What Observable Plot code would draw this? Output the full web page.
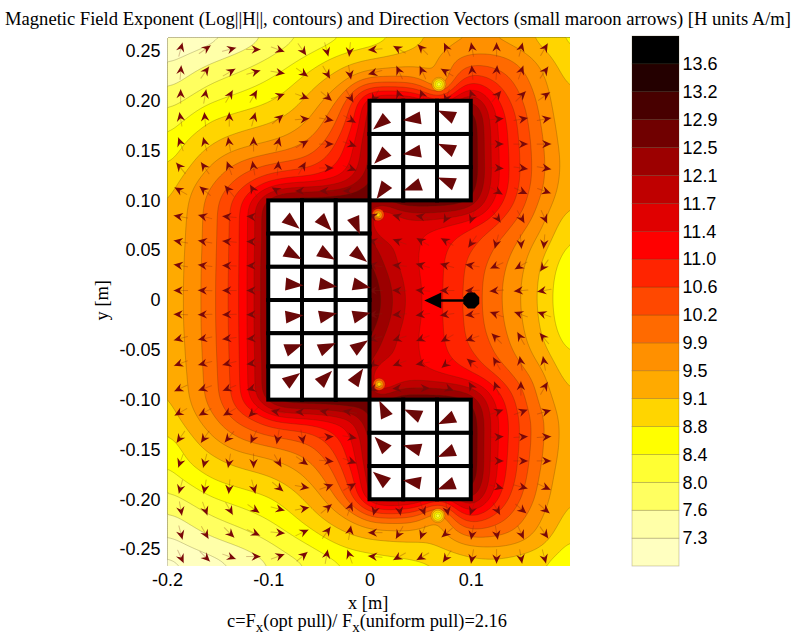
<!DOCTYPE html>
<html><head><meta charset="utf-8">
<script src="https://cdn.jsdelivr.net/npm/d3@7"></script>
<script src="https://cdn.jsdelivr.net/npm/@observablehq/plot@0.6"></script>
<style>
html,body{margin:0;padding:0;background:#fff}
#page{position:relative;width:795px;height:642px;overflow:hidden}
#page>*{position:absolute;left:0;top:0}
.t{font-family:"Liberation Serif",serif;color:#000;white-space:nowrap}
.t sub{font-size:15px;line-height:0}
</style></head><body><div id="page"></div>
<script>
const levels=[6.904,7.276,7.648,8.02,8.392,8.764,9.136,9.508,9.88,10.252,10.624,10.996,11.368,11.74,12.112,12.484,12.856,13.228,13.6];
const levelLabels=["","7.3","7.6","8.0","8.4","8.8","9.1","9.5","9.9","10.2","10.6","11.0","11.4","11.7","12.1","12.5","12.9","13.2","13.6"];
const bandColors=["#FFFFCC","#FFFFC0","#FFFFA8","#FFFF60","#FFFF33","#FFFF00","#FFD500","#FFAA00","#FF9000","#FF6A00","#FF4800","#FF2400","#FF0000","#E00000","#BF0000","#9C0000","#700000","#480000","#240000","#000000"];
const barTop=13.972;

const gridX=[-.2,-.18,-.16,-.14,-.12,-.1,-.08,-.06,-.04,-.02,0,.02,.04,.06,.08,.1,.12,.14,.16,.18,.2];
const gridY=[.28,.26,.24,.22,.2,.18,.16,.14,.12,.1,.08,.06,.04,.02,0,-.02,-.04,-.06,-.08,-.1,-.12,-.14,-.16,-.18,-.2,-.22,-.24,-.26,-.28];
const fieldRows=[
[6.55,6.7,6.85,7.0,7.2,7.4,7.6,7.8,7.95,8.1,8.2,8.35,8.5,8.7,8.9,9.0,9.0,8.95,8.8,8.55,8.3],
[6.8,7.0,7.15,7.32,7.5,7.72,7.96,8.12,8.28,8.42,8.55,8.75,9.0,9.2,9.42,9.5,9.5,9.38,9.15,8.9,8.65],
[7.25,7.45,7.6,7.75,7.9,8.08,8.3,8.55,8.85,9.1,9.2,9.3,9.35,9.42,9.8,10.1,10.12,9.97,9.62,9.2,8.75],
[7.5,7.7,7.95,8.1,8.25,8.42,8.65,8.98,9.25,9.54,9.95,9.9,9.95,9.7,10.0,11.0,10.7,10.3,9.82,9.4,8.95],
[7.85,8.08,8.33,8.48,8.6,8.73,8.95,9.24,9.65,10.45,12,12.2,12,11.5,11.6,12.5,11.35,10.55,10,9.45,9.1],
[8.2,8.47,8.78,8.9,9,9.08,9.24,9.51,10,10.7,12,13,13,13,13,13,11.55,10.8,10.1,9.55,9.1],
[8.4,8.85,9.03,9.2,9.33,9.45,9.62,9.9,10.33,11.1,12.2,13,13,13,13,13,11.6,10.85,10.2,9.62,9.15],
[8.65,9,9.4,9.75,9.98,10.12,10.2,10.32,10.75,11.25,12.2,13,13,13,13,13,11.6,10.9,10.22,9.68,9.2],
[8.9,9.32,9.72,10.15,10.55,10.87,11.05,11.1,11.25,11.55,12.5,13,13,13,13,13,11.65,10.9,10.22,9.68,9.15],
[9.05,9.49,9.98,10.52,11.32,12.6,13,13,13,13,13,13,13,13,13,12.6,11.45,10.75,10.05,9.55,9.05],
[9.12,9.53,10,10.55,11.33,12.6,13,13,13,13,11.8,11.3,11.5,11.5,11.35,11.15,10.8,10.3,9.85,9.3,8.85],
[9.15,9.55,10,10.57,11.33,12.6,13,13,13,13,12.2,11.75,11.5,11.25,11.0,10.75,10.35,10,9.55,9.12,8.6],
[9.18,9.57,10.02,10.58,11.33,12.7,13,13,13,13,12.5,11.85,11.45,11.2,10.9,10.52,10.18,9.8,9.37,8.88,8.45],
[9.2,9.58,10.03,10.6,11.33,12.7,13,13,13,13,12.8,12.1,11.55,11.2,10.87,10.47,10.08,9.72,9.28,8.78,8.35],
[9.2,9.58,10.03,10.6,11.33,12.7,13,13,13,13,12.9,12.2,11.6,11.2,10.85,10.45,10.07,9.7,9.25,8.76,8.3],
[9.2,9.58,10.03,10.6,11.33,12.7,13,13,13,13,12.8,12.1,11.55,11.2,10.87,10.47,10.1,9.73,9.3,8.8,8.35],
[9.18,9.56,10.02,10.58,11.33,12.7,13,13,13,13,12.5,11.85,11.45,11.2,10.9,10.52,10.2,9.82,9.38,8.92,8.5],
[9.15,9.54,10,10.56,11.33,12.6,13,13,13,13,12.2,11.75,11.5,11.25,11,10.75,10.35,10,9.57,9.16,8.7],
[9.1,9.5,9.98,10.53,11.32,12.6,13,13,13,13,11.8,11.3,11.5,11.5,11.35,11.15,10.8,10.35,9.9,9.36,8.95],
[9.03,9.47,9.96,10.5,11.3,12.6,13,13,13,13,13,13,13,13,13,12.6,11.45,10.75,10,9.52,9.02],
[8.88,9.3,9.7,10.12,10.52,10.85,11.03,11.08,11.22,11.52,12.5,13,13,13,13,13,11.6,10.9,10.2,9.68,9.15],
[8.62,8.98,9.38,9.72,9.95,10.1,10.18,10.3,10.72,11.2,12.2,13,13,13,13,13,11.55,10.88,10.2,9.65,9.2],
[8.38,8.83,9,9.18,9.3,9.42,9.6,9.88,10.3,11.05,12.2,13,13,13,13,13,11.55,10.82,10.15,9.6,9.15],
[8.18,8.45,8.75,8.88,8.98,9.06,9.22,9.5,10,10.7,12,13,13,13,13,13,11.5,10.75,10.05,9.5,9.1],
[7.85,8.05,8.3,8.45,8.58,8.7,8.93,9.2,9.6,10.4,12,12.2,12,11.5,11.6,12.5,11.3,10.5,9.95,9.42,9.05],
[7.5,7.68,7.92,8.08,8.22,8.4,8.63,8.95,9.22,9.48,9.85,9.85,9.9,9.6,10,10.85,10.55,10.15,9.7,9.3,8.9],
[7.2,7.42,7.58,7.72,7.87,8.05,8.28,8.5,8.8,9.02,9.1,9.15,9.18,9.2,9.45,9.75,9.8,9.75,9.5,9.1,8.65],
[6.8,7,7.15,7.3,7.45,7.7,7.95,8.1,8.33,8.5,8.6,8.66,8.72,8.78,8.88,9,9.05,9,8.9,8.78,8.45],
[6.5,6.65,6.85,7,7.15,7.35,7.55,7.7,7.9,8.1,8.2,8.3,8.35,8.4,8.5,8.6,8.6,8.55,8.5,8.35,8.05]
];
const spotX=[.068,.068,.068,.061,.076,.068, .068,.068,.068,.061,.076,.068, .016,.011,.023,.008,.031, .016,.011,.023,.008,.031];
const spotY=[.228,.216,.206,.216,.216,.202, -.226,-.215,-.206,-.215,-.215,-.201, .086,.078,.078,.094,.074, -.084,-.076,-.076,-.092,-.072];
const spotV=[9.4,8.6,9.6,9.6,9.7,11, 9.4,8.6,9.6,9.6,9.7,11, 10.6,10.9,11,11,11.4, 10.6,10.9,11,11,11.4];

const ringX=[.068,.068,.068,.068, .067,.067,.067,.067, .008,.008,.008, .009,.009,.009];
const ringY=[.217,.217,.217,.217, -.216,-.216,-.216,-.216, .086,.086,.086, -.084,-.084,-.084];
const ringR=[7,5.5,3.5,1.8, 7,5.5,3.5,1.8, 6,4,2, 6,4,2];
const ringV=[9.3,8.9,8.5,8.1, 9.3,8.9,8.5,8.1, 10.4,9.7,9.0, 10.4,9.7,9.0];

const arrowX=[-.187,-.163,-.139,-.115,-.091,-.067,-.043,-.02,.005,.029,.052,.076,.101,.125,.149,.172];
const arrowY=[.252,.229,.205,.182,.157,.133,.11,.084,.059,.035,.01,-.014,-.038,-.063,-.088,-.112,-.137,-.161,-.187,-.209,-.233,-.257];
const _=null;
const arrowAngles=[
[15,55,75,90,110,145,165,185,265,300,315,335,350,0,15,30],
[5,35,60,75,100,125,150,170,255,335,335,300,355,5,20,35],
[0,10,30,30,70,110,130,150,210,340,340,200,340,40,45,55],
[350,355,0,15,50,85,100,120,_,_,_,_,_,85,80,80],
[340,345,350,0,15,60,90,110,_,_,_,_,_,90,90,90],
[320,325,340,350,5,30,90,110,_,_,_,_,_,95,98,100],
[300,310,320,330,300,270,270,270,_,_,_,_,_,120,115,110],
[280,285,275,275,_,_,_,_,290,285,280,210,200,145,150,155],
[280,280,275,272,_,_,_,_,285,290,300,300,215,195,175,185],
[280,278,272,270,_,_,_,_,280,275,285,285,280,245,240,215],
[270,272,270,270,_,_,_,_,270,272,275,270,268,265,265,260],
[272,268,268,268,_,_,_,_,265,265,262,262,262,290,290,290],
[255,258,262,265,_,_,_,_,255,252,248,240,250,315,330,320],
[250,255,255,262,_,_,_,_,235,250,260,230,310,330,350,350],
[245,250,248,255,_,_,_,_,250,265,90,110,330,340,0,30],
[240,240,240,225,280,270,280,280,_,_,_,_,_,70,70,75],
[215,215,220,205,190,170,85,100,_,_,_,_,_,85,85,85],
[200,195,190,180,150,125,95,110,_,_,_,_,_,90,90,90],
[195,190,185,165,130,100,70,60,_,_,_,_,_,105,105,115],
[170,160,150,125,105,80,50,20,195,170,160,170,200,150,130,130],
[165,150,135,115,95,65,35,10,270,210,200,230,190,170,155,145],
[155,135,110,90,70,50,10,340,275,240,240,215,190,180,170,165]
];

const tileSize=.1/3;
const upperMagnet=[[230,262,294],[225,260,294],[215,250,292]];
const leftMagnet=[[129,137,158],[118,120,129],[95,99,102],[84,78,76],[70,66,56],[54,45,34]];
const lowerMagnet=[[335,294,245],[317,285,247],[309,279,249]];
const magnetOrigins=[[0,.2,upperMagnet],[-.1,.1,leftMagnet],[0,-.1,lowerMagnet]];

const xTicks=[-.2,-.1,0,.1], xTickLabels=["-0.2","-0.1","0","0.1"];
const yTicks=[.25,.2,.15,.1,.05,0,-.05,-.1,-.15,-.2,-.25];
const yTickLabels=["0.25","0.20","0.15","0.10","0.05","0","-0.05","-0.10","-0.15","-0.20","-0.25"];

const field=gridY.flatMap((y,j)=>gridX.map((x,i)=>({x,y,v:fieldRows[j][i]})))
  .concat(spotX.map((x,i)=>({x,y:spotY[i],v:spotV[i]})));
const rings=ringX.map((x,i)=>({x,y:ringY[i],r:ringR[i],v:ringV[i]}));
const arrows=arrowY.flatMap((y,j)=>arrowX.map((x,i)=>({x,y,a:arrowAngles[j][i]}))).filter(d=>d.a!==null);
const tiles=magnetOrigins.flatMap(([x0,y0,rows])=>rows.flatMap((r,j)=>r.map((a,i)=>({
  x1:x0+i*tileSize,x2:x0+(i+1)*tileSize,y1:y0-(j+1)*tileSize,y2:y0-j*tileSize,a}))));

const wedge={draw(c,l){c.moveTo(0,-l);c.lineTo(-6.5,0);c.lineTo(6.5,0);c.closePath();}};
const shaft={draw(c,l){c.moveTo(0,0);c.lineTo(0,-l);}};
const head={draw(c,l){c.moveTo(0,-l);c.lineTo(-4.2,-l+9);c.lineTo(0,-l+6);c.lineTo(4.2,-l+9);c.closePath();}};
const force={draw(c,l){
  const R=8,k=R*.414;
  c.moveTo(-k,-R);c.lineTo(k,-R);c.lineTo(R,-k);c.lineTo(R,k);c.lineTo(k,R);c.lineTo(-k,R);c.lineTo(-R,k);c.lineTo(-R,-k);c.closePath();
  c.moveTo(-1.2,0);c.lineTo(-1.2,-l+17);c.lineTo(-8,-l+17);c.lineTo(0,-l);c.lineTo(8,-l+17);c.lineTo(1.2,-l+17);c.lineTo(1.2,0);c.closePath();
}};

const fontSans='"Liberation Sans",Arial,sans-serif';
const main=Plot.plot({
  width:620,height:642,marginLeft:167,marginRight:50,marginTop:37,marginBottom:76,
  style:{fontFamily:fontSans,background:"transparent",overflow:"visible"},
  x:{domain:[-.2,.198]},
  y:{domain:[-.267,.264]},
  r:{type:"identity"},
  color:{type:"threshold",domain:levels,range:bandColors},
  marks:[
    Plot.contour(field,{x:"x",y:"y",fill:"v",thresholds:[0,...levels],interpolate:"barycentric",blur:4,stroke:"#3a2a00",strokeOpacity:.42,strokeWidth:.55,clip:true}),
    Plot.dot(rings,{x:"x",y:"y",r:"r",fill:"v",stroke:"#3a2a00",strokeOpacity:.4,strokeWidth:.5}),
    Plot.vector(arrows,{x:"x",y:"y",rotate:"a",length:14,shape:shaft,stroke:"#7a2a10",strokeOpacity:.3,strokeWidth:1,clip:true}),
    Plot.vector(arrows,{x:"x",y:"y",rotate:"a",length:14,shape:head,fill:"#7a0808",stroke:"none",clip:true}),
    Plot.rect(tiles,{x1:"x1",x2:"x2",y1:"y1",y2:"y2",fill:"#fff",stroke:"#000",strokeWidth:4}),
    Plot.vector(tiles,{x:d=>(d.x1+d.x2)/2,y:d=>(d.y1+d.y2)/2,rotate:"a",length:18,anchor:"start",shape:wedge,fill:"#6b0808",stroke:"none"}),
    Plot.vector([{x:.1,y:0}],{x:"x",y:"y",rotate:270,length:47,anchor:"start",shape:force,fill:"#000",stroke:"none"}),
    Plot.axisX({ticks:xTicks,tickFormat:v=>xTickLabels[xTicks.indexOf(v)],tickSize:0,tickPadding:7,fontSize:18,label:null}),
    Plot.axisY({ticks:yTicks,tickFormat:v=>yTickLabels[yTicks.indexOf(v)],tickSize:0,tickPadding:7,fontSize:18,label:null})
  ]
});

const bars=bandColors.slice(1).map((c,i)=>({y1:levels[i],y2:i+1<levels.length?levels[i+1]:barTop,c}));
const bar=Plot.plot({
  width:795,height:642,marginLeft:632,marginRight:116,marginTop:36,marginBottom:76,
  style:{fontFamily:fontSans,background:"transparent",overflow:"visible"},
  x:{domain:[0,1],axis:null},
  y:{domain:[levels[0],barTop]},
  marks:[
    Plot.rect(bars,{x1:0,x2:1,y1:"y1",y2:"y2",fill:"c",stroke:"#3a2a00",strokeOpacity:.3,strokeWidth:.7}),
    Plot.axisY({anchor:"right",ticks:levels.slice(1),tickFormat:v=>levelLabels[levels.indexOf(v)],tickSize:0,tickPadding:3,fontSize:18,label:null})
  ]
});

function text(html,left,top,size,extra){
  const d=document.createElement("div");d.className="t";d.innerHTML=html;
  d.style.cssText=`left:${left}px;top:${top}px;font-size:${size}px;line-height:1;${extra||""}`;return d;
}
const page=document.getElementById("page");
page.append(main,bar,
  text("Magnetic Field Exponent (Log||H||, contours) and Direction Vectors (small maroon arrows) [H units A/m]",5,10,18.6),
  text("y [m]",82,291,18.4,"transform:rotate(-90deg);transform-origin:center;"),
  text("x [m]",348,594,18.4),
  text("c=F<sub>x</sub>(opt pull)/ F<sub>x</sub>(uniform pull)=2.16",227,612,18.4));
</script></body></html>
